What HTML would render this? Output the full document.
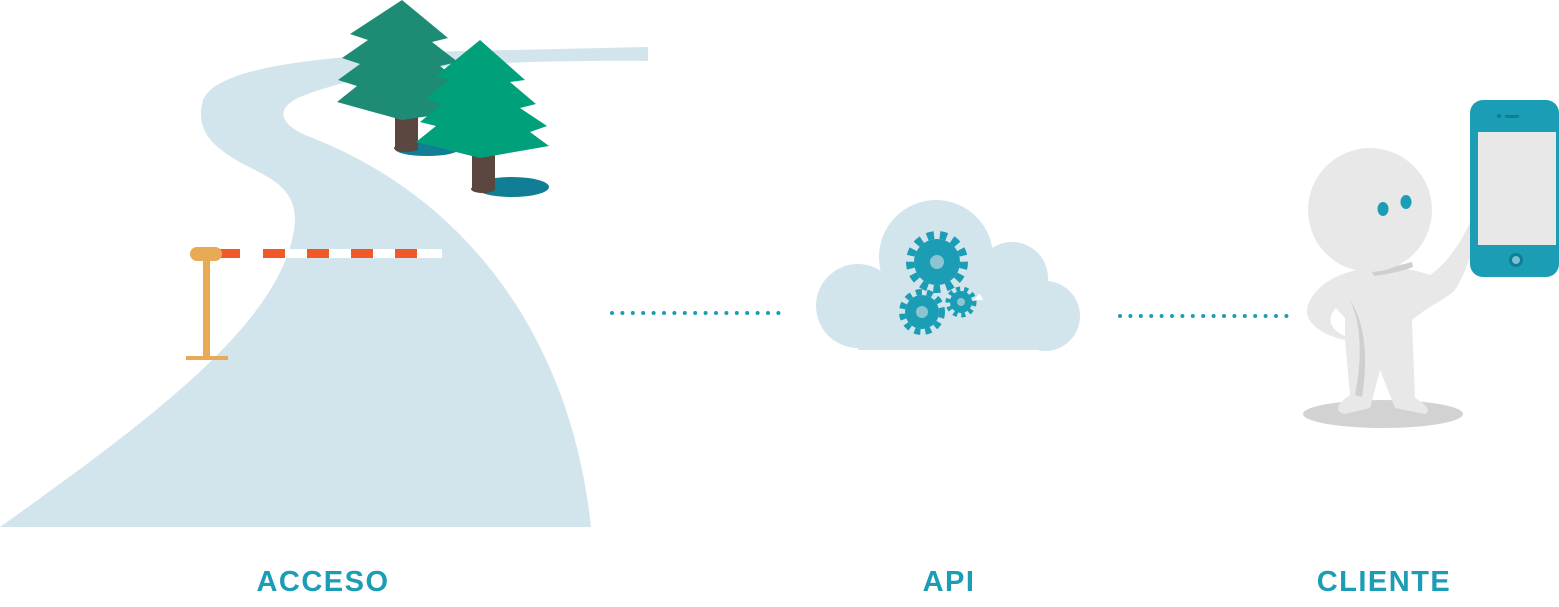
<!DOCTYPE html>
<html><head><meta charset="utf-8"><style>
html,body{margin:0;padding:0;background:#fff;}
svg{display:block}
text{font-family:"Liberation Sans",sans-serif;font-size:29px;font-weight:bold;fill:#1a9db5;letter-spacing:1.5px}
</style></head><body>
<svg width="1559" height="607" viewBox="0 0 1559 607" xmlns="http://www.w3.org/2000/svg">
<!-- road -->
<path d="M0,527 C150,420 270,330 292,240 C302,200 285,185 255,170 C210,148 195,130 203,100 C215,70 300,58 420,52 L648,47 L648,61 C500,60 380,65 300,97 C272,110 282,126 310,137 C460,195 570,330 591,527 Z" fill="#d3e5ec"/>
<!-- dark tree -->
<ellipse cx="427" cy="149" rx="32" ry="7" fill="#117e96"/>
<rect x="395" y="110" width="23" height="40" fill="#5c4640"/>
<ellipse cx="406" cy="148" rx="12" ry="4" fill="#5c4640"/>
<polygon points="402,0 448,38 432,42 458,62 440,66 466,86 446,90 470,110 402,120 337,102 357,86 338,80 360,64 342,58 368,40 350,34" fill="#1e8c74"/>
<!-- light tree -->
<ellipse cx="512" cy="187" rx="37" ry="10" fill="#117e96"/>
<rect x="472" y="150" width="23" height="40" fill="#5c4640"/>
<ellipse cx="483" cy="189" rx="12" ry="4" fill="#5c4640"/>
<polygon points="480,40 525,80 510,82 536,104 520,108 547,126 530,132 549,146 480,158 416,142 436,126 420,122 442,104 426,98 450,80 436,76" fill="#00a07a"/>
<!-- barrier -->
<rect x="203" y="255" width="7" height="103" fill="#e8aa55"/>
<rect x="186" y="356" width="42" height="4" fill="#e8aa55"/>
<rect x="220" y="249" width="222" height="9" fill="#fff"/>
<g fill="#f05a28">
<rect x="220" y="249" width="20" height="9"/><rect x="263" y="249" width="22" height="9"/><rect x="307" y="249" width="22" height="9"/><rect x="351" y="249" width="22" height="9"/><rect x="395" y="249" width="22" height="9"/>
</g>
<rect x="190" y="247" width="32" height="14" rx="7" fill="#e8aa55"/>
<!-- dots -->
<line x1="612" y1="313" x2="779" y2="313" stroke="#1a9db5" stroke-width="4" stroke-linecap="round" stroke-dasharray="0 10.4"/>
<line x1="1120" y1="316" x2="1287" y2="316" stroke="#1a9db5" stroke-width="4" stroke-linecap="round" stroke-dasharray="0 10.4"/>
<!-- cloud -->
<g fill="#d3e5ec">
<circle cx="936" cy="257" r="57"/><circle cx="858" cy="306" r="42"/><circle cx="1012" cy="278" r="36"/><circle cx="1045" cy="316" r="35"/>
<rect x="858" y="300" width="190" height="50"/>
</g>
<g fill="#1a9db5">
<circle cx="937" cy="262" r="23"/><circle cx="937" cy="262" r="27" fill="none" stroke="#1a9db5" stroke-width="8" stroke-dasharray="7 6"/>
<circle cx="922" cy="312" r="17"/><circle cx="922" cy="312" r="20" fill="none" stroke="#1a9db5" stroke-width="6" stroke-dasharray="6 5"/>
<circle cx="961" cy="302" r="11"/><circle cx="961" cy="302" r="13" fill="none" stroke="#1a9db5" stroke-width="5" stroke-dasharray="4 4"/>
</g>
<circle cx="937" cy="262" r="7" fill="#8cc4d2"/><circle cx="922" cy="312" r="6" fill="#8cc4d2"/><circle cx="961" cy="302" r="4" fill="#8cc4d2"/>
<!-- person -->
<ellipse cx="1383" cy="414" rx="80" ry="14" fill="#d2d2d2"/>
<path d="M1372,268 C1340,270 1315,285 1308,305 C1302,320 1320,335 1345,340 L1350,395 C1335,405 1335,412 1345,414 L1370,408 L1380,370 L1395,408 L1425,414 C1432,410 1425,404 1415,398 L1412,320 C1430,305 1445,300 1455,290 C1465,275 1475,245 1480,225 L1470,222 C1460,245 1445,265 1430,275 C1410,268 1390,266 1372,268 Z" fill="#e8e8e8"/>
<path d="M1336,308 C1326,318 1330,330 1345,336 L1345,318 Z" fill="#fff"/>
<path d="M1350,300 C1362,325 1362,360 1355,395 L1362,397 C1368,360 1366,325 1350,300 Z" fill="#cfcfcf"/>
<path d="M1372,272 C1385,268 1398,266 1412,262 L1413,267 C1400,272 1387,274 1374,276 Z" fill="#cfcfcf"/>
<circle cx="1370" cy="210" r="62" fill="#e8e8e8"/>
<ellipse cx="1383" cy="209" rx="5.5" ry="7" fill="#1a9db5"/>
<ellipse cx="1406" cy="202" rx="5.5" ry="7" fill="#1a9db5"/>
<!-- phone -->
<rect x="1470" y="100" width="89" height="177" rx="13" fill="#1a9db5"/>
<rect x="1478" y="132" width="78" height="113" fill="#e8e8e8"/>
<circle cx="1516" cy="260" r="7" fill="#0e7e94"/><circle cx="1516" cy="260" r="4" fill="#7cc0d0"/>
<rect x="1505" y="115" width="14" height="3" rx="1.5" fill="#0e7e94"/><circle cx="1499" cy="116" r="2" fill="#0e7e94"/>
<!-- labels -->
<text x="323" y="591" text-anchor="middle">ACCESO</text>
<text x="949" y="591" text-anchor="middle">API</text>
<text x="1384" y="591" text-anchor="middle">CLIENTE</text>
</svg>
</body></html>
